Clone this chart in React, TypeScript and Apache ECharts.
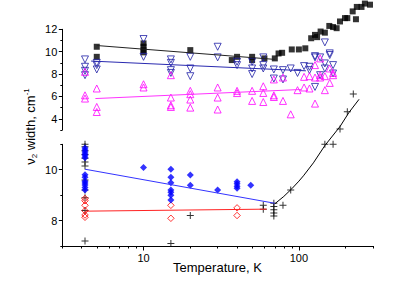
import React, { useEffect, useRef } from 'react';
import * as echarts from 'echarts';

const FONT = '"Liberation Sans", Arial, Helvetica, sans-serif';

// ---- top panel: black filled squares ----
const squareT = [5, 5, 10, 10, 10, 10, 20, 37, 40, 50, 50, 60, 70, 74, 78, 90, 100, 110, 120, 127, 131, 138, 147, 157, 166, 175, 184, 198, 205, 222, 233, 236, 253, 266, 287];
const squareV = [10.44, 9.54, 10.74, 10.44, 10.14, 9.94, 10.14, 9.25, 9.54, 9.54, 9.25, 9.4, 9.4, 9.84, 9.9, 10.2, 10.2, 10.3, 11.2, 11.5, 11.3, 11.8, 11.7, 12.3, 12.2, 12.1, 12.7, 13.0, 13.0, 13.6, 12.9, 14.0, 14.0, 14.3, 14.2];

// ---- top panel: open down triangles (blue) ----
const downT = [4.2, 4.2, 4.2, 4.2, 5, 5, 5, 10, 10, 15, 15, 15, 15, 20, 20, 20, 30, 30, 40, 40, 50, 50, 50, 59, 59, 59, 69, 69, 79, 79, 88.6, 98, 108, 117, 117, 127, 127, 127, 137, 137, 147, 147, 147, 158, 158, 166, 166];
const downV = [9.31, 8.65, 8.29, 7.9, 9.0, 8.8, 8.41, 11.13, 9.54, 9.31, 9.0, 8.35, 8.1, 9.54, 8.5, 7.81, 10.44, 9.49, 9.1, 8.8, 9.1, 8.5, 8.0, 9.49, 8.8, 8.5, 8.41, 7.6, 8.35, 7.52, 8.5, 8.1, 8.71, 8.65, 8.35, 9.6, 9.49, 6.85, 9.49, 7.9, 10.83, 8.95, 8.5, 9.85, 9.7, 8.8, 8.05];

// ---- top panel: open up triangles (magenta) ----
const upT = [4.2, 4.2, 4.2, 5, 5, 5, 10, 10, 15, 15, 15, 15, 20, 20, 20, 20, 30, 30, 30, 40, 40, 50, 50, 59, 59, 59, 69, 69, 69, 79, 79, 88.6, 98, 108, 108, 117, 117, 127, 127, 127, 137, 137, 137, 147, 147, 158, 158, 166, 166];
const upV = [6.1, 5.81, 8.2, 6.71, 5.06, 4.61, 7.09, 6.8, 7.9, 5.9, 5.21, 5.06, 6.5, 6.2, 5.72, 5.0, 6.8, 5.9, 4.83, 6.5, 6.3, 6.5, 5.6, 6.91, 6.31, 5.5, 7.52, 6.1, 5.95, 7.69, 5.6, 4.4, 6.56, 7.75, 6.8, 7.81, 6.71, 8.8, 7.69, 5.36, 9.4, 7.9, 7.69, 7.81, 6.56, 8.5, 7.21, 8.1, 7.9];

// ---- top panel fit lines ----
const squareFitT = [5, 70];
const squareFitV = [10.55, 9.31];
const downFitT = [4.6, 111];
const downFitV = [9.16, 8.29];
const upFitT = [4.9, 103];
const upFitV = [5.81, 6.62];

// ---- bottom panel: crosses (black) ----
const crossT = [4.2, 4.2, 4.2, 4.2, 4.2, 4.2, 4.2, 4.2, 4.2, 4.2, 4.2, 4.2, 15, 20, 59, 59, 69, 69, 69, 69, 69, 79, 88.6, 147, 166, 184, 205, 224];
const crossV = [11.0, 10.9, 10.75, 10.6, 10.45, 10.3, 10.15, 9.6, 9.2, 8.9, 8.4, 7.2, 7.1, 8.2, 8.6, 8.45, 8.68, 8.55, 8.43, 8.3, 8.18, 8.6, 9.2, 11.0, 11.0, 11.6, 12.28, 12.98];

// ---- bottom panel: filled diamonds (blue) ----
const diamondT = [4.2, 4.2, 4.2, 4.2, 4.2, 4.2, 4.2, 4.2, 4.2, 4.2, 4.2, 4.2, 4.2, 10, 15, 15, 15, 15, 15, 15, 15, 20, 20, 30, 40, 40, 40, 40, 49];
const diamondV = [10.85, 10.78, 10.7, 10.62, 10.55, 10.47, 9.8, 9.7, 9.55, 9.48, 9.4, 9.3, 9.2, 10.09, 10.02, 9.7, 9.49, 9.2, 9.11, 9.0, 8.81, 9.79, 9.39, 9.2, 9.53, 9.45, 9.35, 9.27, 9.39];

// ---- bottom panel: open diamonds (red) ----
const openDiaT = [4.2, 4.2, 4.2, 4.2, 4.2, 4.2, 15, 15, 40, 40];
const openDiaV = [8.87, 8.78, 8.6, 8.39, 8.22, 8.13, 8.6, 8.09, 8.5, 8.2];

// ---- bottom panel fit lines ----
const diamondFitT = [4.2, 70];
const diamondFitV = [10.02, 8.68];
const openDiaFitT = [4.2, 62];
const openDiaFitV = [8.37, 8.45];
const crossFitT = [70, 80, 90, 100, 107, 124, 147, 184, 210, 244];
const crossFitV = [8.66, 8.95, 9.25, 9.55, 9.76, 10.27, 10.95, 11.7, 12.25, 12.77];

// ---- axes ----
const xMajor = [10, 100];
const xMinor = [3, 4, 5, 6, 7, 8, 9, 20, 30, 40, 50, 60, 70, 80, 90, 200, 300];
const topMajor = [4, 6, 8, 10, 12];
const topMinor = [3, 5, 7, 9, 11];
const botMajor = [8, 10];
const botMinor = [7, 9, 11];

const pairs = (t: number[], v: number[]) => t.map((x, i) => [x, v[i]]);

const CROSS = 'path://M3,0h1v3h3v1h-3v3h-1v-3h-3v-1h3z';

export default function App() {
  const ref = useRef<HTMLDivElement>(null);
  useEffect(() => {
    if (!ref.current) return;
    const chart = echarts.init(ref.current, undefined, { renderer: 'svg' });
    const L = 62.3;
    const W = 310.7;
    const hiddenX = (gi: number) => ({
      gridIndex: gi, type: 'log', min: 3, max: 300, logBase: 10,
      axisLine: { show: false }, axisTick: { show: false }, axisLabel: { show: false },
      splitLine: { show: false },
    });
    const option: any = {
      animation: false,
      backgroundColor: '#fff',
      textStyle: { fontFamily: FONT },
      grid: [
        { left: L, top: 29.3, width: W, height: 100.7, containLabel: false },
        { left: L, top: 144.3, width: W, height: 101.7, containLabel: false },
      ],
      xAxis: [
        hiddenX(0),
        {
          gridIndex: 1, type: 'log', min: 3, max: 300, logBase: 10, position: 'bottom',
          axisLine: { show: true, onZero: false, lineStyle: { color: '#000', width: 1 } },
          axisTick: { show: true, customValues: xMajor, length: 4.5, lineStyle: { color: '#000', width: 1 } },
          axisLabel: { show: true, customValues: xMajor, formatter: (v: number) => String(Math.round(v)), color: '#000', fontSize: 11, fontFamily: FONT, margin: 6 },
          splitLine: { show: false },
          minorTick: { show: false },
        },
        {
          gridIndex: 1, type: 'log', min: 3, max: 300, logBase: 10, position: 'bottom', offset: 0,
          axisLine: { show: false, onZero: false },
          axisTick: { show: true, customValues: xMinor, length: 2.5, lineStyle: { color: '#000', width: 1 } },
          axisLabel: { show: false },
          splitLine: { show: false },
        },
      ],
      yAxis: [
        {
          gridIndex: 0, type: 'value', min: 3, max: 12, position: 'left',
          axisLine: { show: true, onZero: false, lineStyle: { color: '#000', width: 1 } },
          axisTick: { show: true, customValues: topMajor, length: 3.5, lineStyle: { color: '#000', width: 1 } },
          axisLabel: { show: true, customValues: topMajor, color: '#000', fontSize: 11, fontFamily: FONT, margin: 5 },
          splitLine: { show: false },
        },
        {
          gridIndex: 0, type: 'value', min: 3, max: 12, position: 'left', offset: 0,
          axisLine: { show: false, onZero: false },
          axisTick: { show: true, customValues: topMinor, length: 2, lineStyle: { color: '#000', width: 1 } },
          axisLabel: { show: false },
          splitLine: { show: false },
        },
        {
          gridIndex: 1, type: 'value', min: 7, max: 11, position: 'left',
          axisLine: { show: true, onZero: false, lineStyle: { color: '#000', width: 1 } },
          axisTick: { show: true, customValues: botMajor, length: 3.5, lineStyle: { color: '#000', width: 1 } },
          axisLabel: { show: true, customValues: botMajor, color: '#000', fontSize: 11, fontFamily: FONT, margin: 5 },
          splitLine: { show: false },
        },
        {
          gridIndex: 1, type: 'value', min: 7, max: 11, position: 'left', offset: 0,
          axisLine: { show: false, onZero: false },
          axisTick: { show: true, customValues: botMinor, length: 2, lineStyle: { color: '#000', width: 1 } },
          axisLabel: { show: false },
          splitLine: { show: false },
        },
      ],
      graphic: [
        {
          type: 'text', x: 217.5, y: 267, z: 10,
          style: { text: 'Temperature, K', fontSize: 13, fontFamily: FONT, fill: '#000', align: 'center', verticalAlign: 'middle' },
        },
        {
          type: 'text', x: 30, y: 126.5, rotation: Math.PI / 2, z: 10,
          style: {
            text: '{a|ν}{s|2}{a| width, cm}{p|-1}',
            align: 'center', verticalAlign: 'middle', fill: '#000', fontFamily: FONT,
            rich: {
              a: { fontSize: 13, lineHeight: 16, fontFamily: FONT, fill: '#000' },
              s: { fontSize: 8, lineHeight: 8, verticalAlign: 'bottom', fontFamily: FONT, fill: '#000' },
              p: { fontSize: 8, lineHeight: 8, verticalAlign: 'top', fontFamily: FONT, fill: '#000' },
            },
          },
        },
      ],
      series: [
        {
          type: 'scatter', xAxisIndex: 0, yAxisIndex: 0, clip: false, data: pairs(squareT, squareV),
          symbol: 'rect', symbolSize: 6, itemStyle: { color: '#000' },
        },
        {
          type: 'scatter', xAxisIndex: 0, yAxisIndex: 0, clip: false, data: pairs(downT, downV),
          symbol: 'triangle', symbolRotate: 180, symbolSize: 7,
          itemStyle: { color: 'rgba(255,255,255,0)', borderColor: '#1f1fa6', borderWidth: 1 },
        },
        {
          type: 'scatter', xAxisIndex: 0, yAxisIndex: 0, clip: false, data: pairs(upT, upV),
          symbol: 'triangle', symbolSize: 7,
          itemStyle: { color: 'rgba(255,255,255,0)', borderColor: '#ff00ff', borderWidth: 1 },
        },
        {
          type: 'line', xAxisIndex: 0, yAxisIndex: 0, data: pairs(squareFitT, squareFitV), symbol: 'none',
          lineStyle: { color: '#222', width: 1 },
        },
        {
          type: 'line', xAxisIndex: 0, yAxisIndex: 0, data: pairs(downFitT, downFitV), symbol: 'none',
          lineStyle: { color: '#2a2ab0', width: 1 },
        },
        {
          type: 'line', xAxisIndex: 0, yAxisIndex: 0, data: pairs(upFitT, upFitV), symbol: 'none',
          lineStyle: { color: '#ff33ff', width: 1 },
        },
        {
          type: 'scatter', xAxisIndex: 1, yAxisIndex: 2, clip: false, data: pairs(crossT, crossV),
          symbol: CROSS, symbolSize: 7, itemStyle: { color: '#000' },
        },
        {
          type: 'scatter', xAxisIndex: 1, yAxisIndex: 2, clip: false, data: pairs(openDiaT, openDiaV),
          symbol: 'diamond', symbolSize: 6.5,
          itemStyle: { color: 'rgba(255,255,255,0)', borderColor: '#ff0000', borderWidth: 1 },
        },
        {
          type: 'scatter', xAxisIndex: 1, yAxisIndex: 2, clip: false, data: pairs(diamondT, diamondV),
          symbol: 'diamond', symbolSize: 7, itemStyle: { color: '#0000ff' },
        },
        {
          type: 'line', xAxisIndex: 1, yAxisIndex: 2, data: pairs(diamondFitT, diamondFitV), symbol: 'none',
          lineStyle: { color: '#3333ff', width: 1 },
        },
        {
          type: 'line', xAxisIndex: 1, yAxisIndex: 2, data: pairs(openDiaFitT, openDiaFitV), symbol: 'none',
          lineStyle: { color: '#ff2222', width: 1 },
        },
        {
          type: 'line', xAxisIndex: 1, yAxisIndex: 2, clip: false, data: pairs(crossFitT, crossFitV), symbol: 'none',
          smooth: false, lineStyle: { color: '#000', width: 1 },
        },
      ],
    };
    chart.setOption(option);
    return () => chart.dispose();
  }, []);
  return (
    <div
      ref={ref}
      style={{ position: 'fixed', left: 0, top: 0, width: 415, height: 289, background: '#fff' }}
    />
  );
}
